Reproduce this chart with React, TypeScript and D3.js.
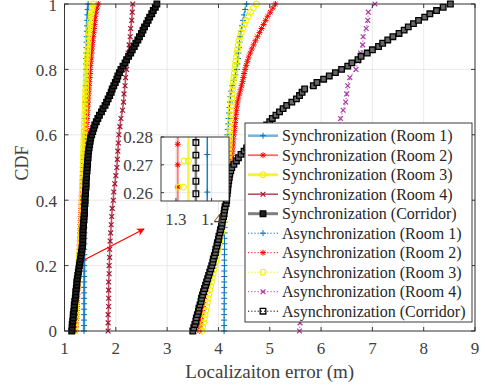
import React from 'react';
import * as d3 from 'd3';

// ---------- data (sorted localization errors, ECDF) ----------
const syncRoom1 = [1.380,1.381,1.381,1.382,1.382,1.382,1.383,1.383,1.383,1.384,1.384,1.385,1.385,
  1.385,1.386,1.386,1.387,1.387,1.388,1.388,1.389,1.389,1.390,1.390,1.391,
  1.392,1.393,1.394,1.395,1.396,1.397,1.398,1.399,1.400,1.401,1.402,1.403,
  1.404,1.406,1.408,1.410,1.412,1.413,1.414,1.415,1.416,1.418,1.419,1.420,
  1.422,1.424,1.426,1.428,1.430,1.432,1.435,1.438,1.442,1.446,1.452,1.460];
const syncRoom2 = [1.220,1.224,1.228,1.232,1.236,1.240,1.243,1.246,1.250,
  1.254,1.258,1.262,1.265,1.269,1.272,1.276,1.280,
  1.283,1.286,1.289,1.292,1.295,1.298,1.302,1.305,
  1.308,1.311,1.314,1.317,1.320,1.323,1.326,1.330,
  1.334,1.338,1.342,1.347,1.352,1.357,1.363,1.370,
  1.376,1.382,1.388,1.394,1.400,1.406,1.413,1.420,
  1.425,1.430,1.435,1.440,1.445,1.450,1.455,1.460,
  1.465,1.470,1.475,1.480,1.485,1.490,1.495,1.500,
  1.507,1.514,1.521,1.528,1.535,1.542,1.550,1.560,
  1.568,1.576,1.584,1.592,1.600,1.615,1.635,1.660];
const syncRoom3 = [1.200,1.204,1.208,1.212,1.216,1.220,1.224,1.228,1.232,
  1.237,1.242,1.247,1.252,1.257,1.262,1.267,1.272,
  1.278,1.285,1.292,1.300,1.310,1.318,1.324,1.330,
  1.333,1.335,1.337,1.339,1.340,1.341,1.342,1.344,
  1.346,1.348,1.350,1.352,1.354,1.356,1.358,1.360,
  1.362,1.364,1.367,1.370,1.372,1.375,1.378,1.380,
  1.383,1.386,1.389,1.392,1.395,1.398,1.401,1.404,
  1.407,1.410,1.413,1.416,1.420,1.424,1.428,1.432,
  1.436,1.440,1.445,1.450,1.455,1.460,1.466,1.472,
  1.480,1.488,1.496,1.505,1.515,1.527,1.542,1.560];
const syncRoom4 = [1.85,1.85,1.85,1.86,1.86,1.86,1.86,1.87,1.87,
  1.88,1.88,1.89,1.90,1.91,1.92,1.93,1.95,
  1.96,1.98,2.00,2.02,2.03,2.04,2.05,2.06,
  2.08,2.10,2.13,2.15,2.16,2.18,2.19,2.21,
  2.22,2.24,2.26,2.28,2.29,2.31,2.32,2.33];
const syncCorridor = [1.14,1.15,1.15,1.16,1.17,1.17,1.18,1.19,1.19,1.20,1.21,
  1.22,1.22,1.23,1.24,1.24,1.25,1.26,1.27,1.28,1.29,
  1.30,1.31,1.32,1.33,1.34,1.35,1.355,1.356,1.358,1.36,
  1.36,1.37,1.37,1.38,1.38,1.39,1.39,1.39,1.40,1.40,
  1.40,1.41,1.41,1.42,1.42,1.42,1.43,1.43,1.44,1.44,
  1.45,1.45,1.46,1.46,1.47,1.48,1.49,1.50,1.51,1.53,
  1.55,1.57,1.59,1.62,1.65,1.68,1.72,1.75,1.79,1.82,
  1.85,1.88,1.91,1.93,1.96,1.99,2.02,2.04,2.07,2.10,
  2.14,2.18,2.21,2.25,2.29,2.32,2.36,2.39,2.43,2.46,
  2.50,2.53,2.56,2.60,2.63,2.66,2.70,2.73,2.77,2.80];
const asyncRoom1 = [4.110,4.110,4.111,4.111,4.112,4.112,4.113,4.113,4.114,4.114,4.115,4.115,4.116,
  4.116,4.117,4.117,4.118,4.118,4.119,4.120,4.121,4.122,4.123,4.124,4.126,
  4.128,4.131,4.134,4.137,4.140,4.144,4.148,4.152,4.157,4.162,4.168,4.175,
  4.182,4.190,4.198,4.206,4.215,4.225,4.235,4.250,4.270,4.300,4.330,4.360,
  4.370,4.380,4.390,4.400,4.410,4.420,4.440,4.460,4.480,4.500,4.520,4.550];
const asyncRoom2 = [3.630,3.640,3.650,3.660,3.672,3.684,3.696,3.708,3.720,
  3.738,3.756,3.776,3.796,3.816,3.836,3.858,3.880,
  3.900,3.920,3.940,3.960,3.980,4.000,4.020,4.040,
  4.055,4.070,4.085,4.100,4.115,4.130,4.145,4.160,
  4.172,4.184,4.196,4.208,4.220,4.230,4.240,4.250,
  4.256,4.262,4.268,4.274,4.280,4.286,4.293,4.300,
  4.308,4.316,4.324,4.332,4.340,4.350,4.360,4.370,
  4.390,4.410,4.430,4.450,4.470,4.485,4.500,4.520,
  4.540,4.565,4.590,4.620,4.650,4.685,4.720,4.760,
  4.800,4.840,4.880,4.920,4.960,5.010,5.060,5.110];
const asyncRoom3 = [3.680,3.695,3.710,3.725,3.740,3.755,3.770,3.785,3.800,
  3.816,3.832,3.848,3.864,3.880,3.896,3.913,3.930,
  3.946,3.962,3.978,3.994,4.010,4.026,4.043,4.060,
  4.072,4.084,4.096,4.108,4.119,4.130,4.140,4.150,
  4.157,4.164,4.170,4.176,4.182,4.188,4.194,4.200,
  4.203,4.206,4.208,4.210,4.212,4.214,4.217,4.220,
  4.224,4.228,4.232,4.236,4.240,4.244,4.248,4.252,
  4.260,4.268,4.276,4.284,4.292,4.300,4.310,4.320,
  4.330,4.340,4.350,4.362,4.374,4.386,4.400,4.420,
  4.445,4.475,4.505,4.540,4.580,4.625,4.680,4.740];
const asyncRoom4 = [5.58,5.59,5.63,5.67,5.70,5.74,5.77,5.80,5.84,5.87,5.90,5.93,5.96,5.99,6.02,6.05,
  6.08,6.11,6.14,6.17,6.20,6.22,6.25,6.27,6.30,6.34,6.38,6.43,6.48,6.50,6.52,6.56,
  6.68,6.72,6.77,6.81,6.82,6.88,6.91,6.92,7.05];
const asyncCorridor = [3.50,3.52,3.54,3.56,3.57,3.59,3.61,3.62,3.64,3.66,3.67,
  3.69,3.71,3.73,3.75,3.77,3.79,3.81,3.83,3.85,3.87,
  3.89,3.90,3.92,3.94,3.95,3.97,3.98,4.00,4.01,4.03,
  4.04,4.06,4.07,4.08,4.10,4.11,4.12,4.13,4.15,4.16,
  4.16,4.17,4.18,4.18,4.19,4.20,4.21,4.22,4.24,4.26,
  4.30,4.35,4.39,4.44,4.50,4.55,4.60,4.65,4.70,4.76,
  4.82,4.88,4.94,5.00,5.05,5.12,5.19,5.26,5.33,5.43,
  5.52,5.58,5.63,5.68,5.85,5.92,6.05,6.16,6.28,6.40,
  6.52,6.60,6.72,6.78,6.90,7.00,7.12,7.20,7.30,7.40,
  7.52,7.62,7.70,7.80,7.90,8.02,8.12,8.25,8.38,8.52];

const seriesNames = [
  'Synchronization (Room 1)', 'Synchronization (Room 2)', 'Synchronization (Room 3)',
  'Synchronization (Room 4)', 'Synchronization (Corridor)',
  'Asynchronization (Room 1)', 'Asynchronization (Room 2)', 'Asynchronization (Room 3)',
  'Asynchronization (Room 4)', 'Asynchronization (Corridor)'];

const xTicks = [1, 2, 3, 4, 5, 6, 7, 8, 9];
const yTicks = [0, 0.2, 0.4, 0.6, 0.8, 1];
const yTickLabels = ['0', '0.2', '0.4', '0.6', '0.8', '1'];

// inset (zoom of the synchronization curves)
const insetXTicks = [1.3, 1.4];
const insetYTicks = [0.26, 0.27, 0.28];
const insetRoom1 = { x: 1.388, marks: [[1.388, 0.2602], [1.388, 0.2737]] };
const insetRoom2 = { x: 1.305, marks: [[1.305, 0.2620], [1.305, 0.2700], [1.305, 0.2774]] };
const insetRoom3 = { x: 1.335, marks: [[1.309, 0.2620], [1.321, 0.2620], [1.323, 0.2714], [1.335, 0.2714]] };
const insetCorridor = { x: 1.356, marks: [[1.356, 0.2596], [1.356, 0.2641], [1.356, 0.2688], [1.356, 0.2735], [1.356, 0.2780]] };

const arrowFrom = [1.38, 0.217];
const arrowTo = [2.55, 0.312];

// ---------- style ----------
const BLUE = '#0072BD', RED = '#FF0000', YELLOW = '#F2F200', DARKRED = '#A2142F', BLACK = '#000000', MAGENTA = '#AE3AAA';
const FONT = 'Liberation Serif, DejaVu Serif, serif';

type Series = { name: string; data: number[]; color: string; marker: string; sync: boolean; lw: number; op: number; fill: string };

const series: Series[] = [
  { name: seriesNames[0], data: syncRoom1, color: BLUE, marker: '+', sync: true, lw: 2.5, op: 0.55, fill: 'none' },
  { name: seriesNames[1], data: syncRoom2, color: RED, marker: '*', sync: true, lw: 1.8, op: 0.6, fill: 'none' },
  { name: seriesNames[2], data: syncRoom3, color: YELLOW, marker: 'o', sync: true, lw: 3, op: 0.8, fill: 'none' },
  { name: seriesNames[3], data: syncRoom4, color: DARKRED, marker: 'x', sync: true, lw: 1.6, op: 0.75, fill: 'none' },
  { name: seriesNames[4], data: syncCorridor, color: BLACK, marker: 's', sync: true, lw: 3, op: 0.5, fill: '#222' },
  { name: seriesNames[5], data: asyncRoom1, color: BLUE, marker: '+', sync: false, lw: 1, op: 1, fill: 'none' },
  { name: seriesNames[6], data: asyncRoom2, color: RED, marker: '*', sync: false, lw: 1, op: 1, fill: 'none' },
  { name: seriesNames[7], data: asyncRoom3, color: YELLOW, marker: 'o', sync: false, lw: 1, op: 1, fill: 'none' },
  { name: seriesNames[8], data: asyncRoom4, color: MAGENTA, marker: 'x', sync: false, lw: 1, op: 1, fill: 'none' },
  { name: seriesNames[9], data: asyncCorridor, color: BLACK, marker: 's', sync: false, lw: 1, op: 1, fill: '#666' },
];

function markerPath(type: string): string {
  const s = 3;
  switch (type) {
    case '+': return `M${-s},0H${s}M0,${-s}V${s}`;
    case 'x': { const t = 2.4; return `M${-t},${-t}L${t},${t}M${-t},${t}L${t},${-t}`; }
    case '*': { const t = 2.2; return `M${-s},0H${s}M0,${-s}V${s}M${-t},${-t}L${t},${t}M${-t},${t}L${t},${-t}`; }
    case 's': { const t = 2.8; return `M${-t},${-t}H${t}V${t}H${-t}Z`; }
    case 'o': { const r = 2.9; return `M${-r},0A${r},${r} 0 1,0 ${r},0A${r},${r} 0 1,0 ${-r},0Z`; }
  }
  return '';
}

const Marker = ({ x, y, type, color, fill = 'none' }: { x: number; y: number; type: string; color: string; fill?: string }) => (
  <path d={markerPath(type)} transform={`translate(${x},${y})`} fill={fill} stroke={color}
    strokeWidth={type === 'o' ? 1.1 : type === 's' ? 1.3 : type === 'x' ? 1.2 : 1} />
);

const txt = { fontFamily: FONT } as React.CSSProperties;

export default function App() {
  const W = 485, H = 387;
  const L = 64.5, R = 475, T = 4, B = 331;
  const x = d3.scaleLinear().domain([1, 9]).range([L, R]);
  const y = d3.scaleLinear().domain([0, 1]).range([B, T]);

  // inset
  const iL = 161, iR = 229, iT = 137, iB = 201;
  const ix = d3.scaleLinear().domain([1.258, 1.449]).range([iL, iR]);
  const iy = d3.scaleLinear().domain([0.257, 0.28]).range([iB, iT]);
  const insetSeries = [
    { s: insetRoom1, color: BLUE, marker: '+', lw: 1.5, op: 0.9, fill: 'none' },
    { s: insetRoom2, color: RED, marker: '*', lw: 2, op: 0.5, fill: 'none' },
    { s: insetRoom3, color: YELLOW, marker: 'o', lw: 2.5, op: 0.75, fill: 'none' },
    { s: insetCorridor, color: BLACK, marker: 's', lw: 2.5, op: 0.5, fill: 'none' },
  ];

  const legX = 245, legY = 123, legW = 227, legH = 199;
  const rowH = 19.5, row0 = 135.7;

  const ax = '#262626';
  const grid = '#e3e3e3';
  const tickLen = 4;

  return (
    <svg width={W} height={H} style={{ position: 'absolute', left: 0, top: 0, background: '#fff' }}>
      <defs>
        <marker id="arrowHead" viewBox="0 0 10 10" refX="9" refY="5" markerWidth="8" markerHeight="8"
          markerUnits="userSpaceOnUse" orient="auto">
          <path d="M0,0 L10,5 L0,10 L3,5 Z" fill={RED} />
        </marker>
      </defs>
      <rect x={0} y={0} width={W} height={H} fill="#fff" />
      {/* grid */}
      {xTicks.map(t => <line key={'gx' + t} x1={x(t)} x2={x(t)} y1={T} y2={B} stroke={grid} strokeWidth={0.8} />)}
      {yTicks.map(t => <line key={'gy' + t} x1={L} x2={R} y1={y(t)} y2={y(t)} stroke={grid} strokeWidth={0.8} />)}

      {/* series */}
      {series.map((s, k) => {
        const n = s.data.length;
        const line = d3.line<number>().x(d => x(d)).y((d, i) => y(i / (n - 1)));
        return (
          <g key={'s' + k}>
            <path d={line(s.data) || ''} fill="none" stroke={s.color} strokeWidth={s.lw} strokeOpacity={s.op}
              strokeDasharray={s.sync ? undefined : '1.2 2'} />
            {s.data.map((d, i) => <Marker key={i} x={x(d)} y={y(i / (n - 1))} type={s.marker} color={s.color} fill={s.fill} />)}
          </g>
        );
      })}

      {/* axes box and ticks */}
      <rect x={L} y={T} width={R - L} height={B - T} fill="none" stroke={ax} strokeWidth={0.9} />
      {xTicks.map(t => (
        <g key={'tx' + t}>
          <line x1={x(t)} x2={x(t)} y1={B} y2={B - tickLen} stroke={ax} strokeWidth={0.9} />
          <line x1={x(t)} x2={x(t)} y1={T} y2={T + tickLen} stroke={ax} strokeWidth={0.9} />
          <text x={x(t)} y={354} textAnchor="middle" fontSize={17} fill="#404040" style={txt}>{t}</text>
        </g>
      ))}
      {yTicks.map((t, i) => (
        <g key={'ty' + t}>
          <line x1={L} x2={L + tickLen} y1={y(t)} y2={y(t)} stroke={ax} strokeWidth={0.9} />
          <line x1={R} x2={R - tickLen} y1={y(t)} y2={y(t)} stroke={ax} strokeWidth={0.9} />
          <text x={57} y={Math.max(y(t), 4.5)} dy="0.38em" textAnchor="end" fontSize={17} fill="#404040" style={txt}>{yTickLabels[i]}</text>
        </g>
      ))}
      <text x={(L + R) / 2} y={378} textAnchor="middle" fontSize={19} fill="#404040" style={txt}>Localizaiton error (m)</text>
      <text transform={`translate(28,163) rotate(-90)`} textAnchor="middle" fontSize={18} fill="#404040" style={txt}>CDF</text>

      {/* inset */}
      <rect x={iL} y={iT} width={iR - iL} height={iB - iT} fill="#fff" />
      {insetXTicks.map(t => <line key={'igx' + t} x1={ix(t)} x2={ix(t)} y1={iT} y2={iB} stroke={grid} strokeWidth={0.8} />)}
      {insetYTicks.map(t => <line key={'igy' + t} x1={iL} x2={iR} y1={iy(t)} y2={iy(t)} stroke={grid} strokeWidth={0.8} />)}
      {insetSeries.map((s, k) => (
        <g key={'is' + k}>
          <line x1={ix(s.s.x)} x2={ix(s.s.x)} y1={iT} y2={iB} stroke={s.color} strokeWidth={s.lw} strokeOpacity={s.op} />
          {s.s.marks.map((m, i) => <Marker key={i} x={ix(m[0])} y={iy(m[1])} type={s.marker} color={s.color} fill={s.fill} />)}
        </g>
      ))}
      <rect x={iL} y={iT} width={iR - iL} height={iB - iT} fill="none" stroke={ax} strokeWidth={0.9} />
      {insetXTicks.map(t => (
        <g key={'itx' + t}>
          <line x1={ix(t)} x2={ix(t)} y1={iB} y2={iB - 3} stroke={ax} strokeWidth={0.9} />
          <text x={ix(t)} y={225} textAnchor="middle" fontSize={17} fill="#404040" style={txt}>{t.toFixed(1)}</text>
        </g>
      ))}
      {insetYTicks.map(t => (
        <g key={'ity' + t}>
          <line x1={iL} x2={iL + 3} y1={iy(t)} y2={iy(t)} stroke={ax} strokeWidth={0.9} />
          <text x={153} y={iy(t)} dy="0.36em" textAnchor="end" fontSize={17} fill="#404040" style={txt}>{t.toFixed(2)}</text>
        </g>
      ))}

      {/* arrow */}
      <line x1={x(arrowFrom[0])} y1={y(arrowFrom[1])} x2={x(arrowTo[0])} y2={y(arrowTo[1])}
        stroke={RED} strokeWidth={1.2} markerEnd="url(#arrowHead)" />

      {/* legend */}
      <rect x={legX} y={legY} width={legW} height={legH} fill="#fff" stroke={ax} strokeWidth={0.9} />
      {series.map((s, i) => {
        const cy = row0 + i * rowH;
        return (
          <g key={'lg' + i}>
            <line x1={248} x2={278} y1={cy} y2={cy} stroke={s.color} strokeWidth={s.lw} strokeOpacity={s.op}
              strokeDasharray={s.sync ? undefined : '1.2 2'} />
            <Marker x={263} y={cy} type={s.marker} color={s.color} fill={s.sync ? s.fill : 'none'} />
            <text x={282} y={cy} dy="0.34em" fontSize={16} fill="#262626" style={txt}>{s.name}</text>
          </g>
        );
      })}
    </svg>
  );
}
